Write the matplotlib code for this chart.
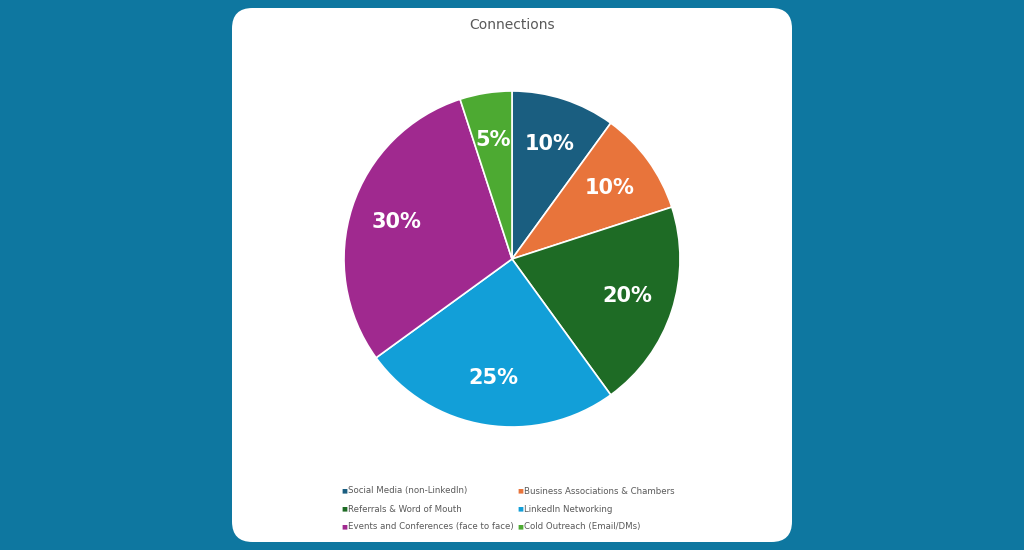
import matplotlib
matplotlib.use("Agg")
import matplotlib.pyplot as plt
from matplotlib.patches import FancyBboxPatch

categories = ["Social Media (non-LinkedIn)", "Business Associations & Chambers",
              "Referrals & Word of Mouth", "LinkedIn Networking",
              "Events and Conferences (face to face)", "Cold Outreach (Email/DMs)"]
values = [10, 10, 20, 25, 30, 5]
colors = ["#1A5E80", "#E8743B", "#1E6B25", "#129FD8", "#A0298F", "#4DAA32"]
title = "Connections"

fig = plt.figure(figsize=(10.24, 5.5), dpi=100)
fig.patch.set_facecolor("#0E77A0")
card = FancyBboxPatch((232/1024, 8/550), 560/1024, 534/550, transform=fig.transFigure,
                      boxstyle="round,pad=0,rounding_size=0.02", fc="white", ec="none",
                      mutation_aspect=1024/550, zorder=-5)
fig.patches.append(card)

r = 210
cx, cy = 512, 259
ax = fig.add_axes([(cx - r)/1024, 1 - (cy + r)/550, 2*r/1024, 2*r/550])
ax.set_zorder(5)
ax.patch.set_alpha(0)
wedges, texts, autotexts = ax.pie(values, colors=colors, startangle=90, counterclock=False,
                                  autopct=lambda p: f"{p:.0f}%", pctdistance=0.72,
                                  wedgeprops=dict(edgecolor="white", linewidth=1.2))
for t in autotexts:
    t.set_color("white"); t.set_fontsize(15); t.set_fontweight("bold")
ax.set_aspect("equal")

fig.text(512/1024, 1 - 25/550, title, ha="center", va="center", fontsize=10, color="#595959")

xs = [341, 517]
ys = [491, 509, 527]
for i, (c, col) in enumerate(zip(categories, colors)):
    x = xs[i % 2]; y = ys[i // 2]
    fig.text(x/1024, 1 - y/550, "\u25A0", color=col, fontsize=4.5, va="center", ha="left")
    fig.text((x + 7)/1024, 1 - y/550, c, color="#595959", fontsize=6.2, va="center", ha="left")

fig.savefig("out.png", dpi=100, facecolor=fig.get_facecolor())
